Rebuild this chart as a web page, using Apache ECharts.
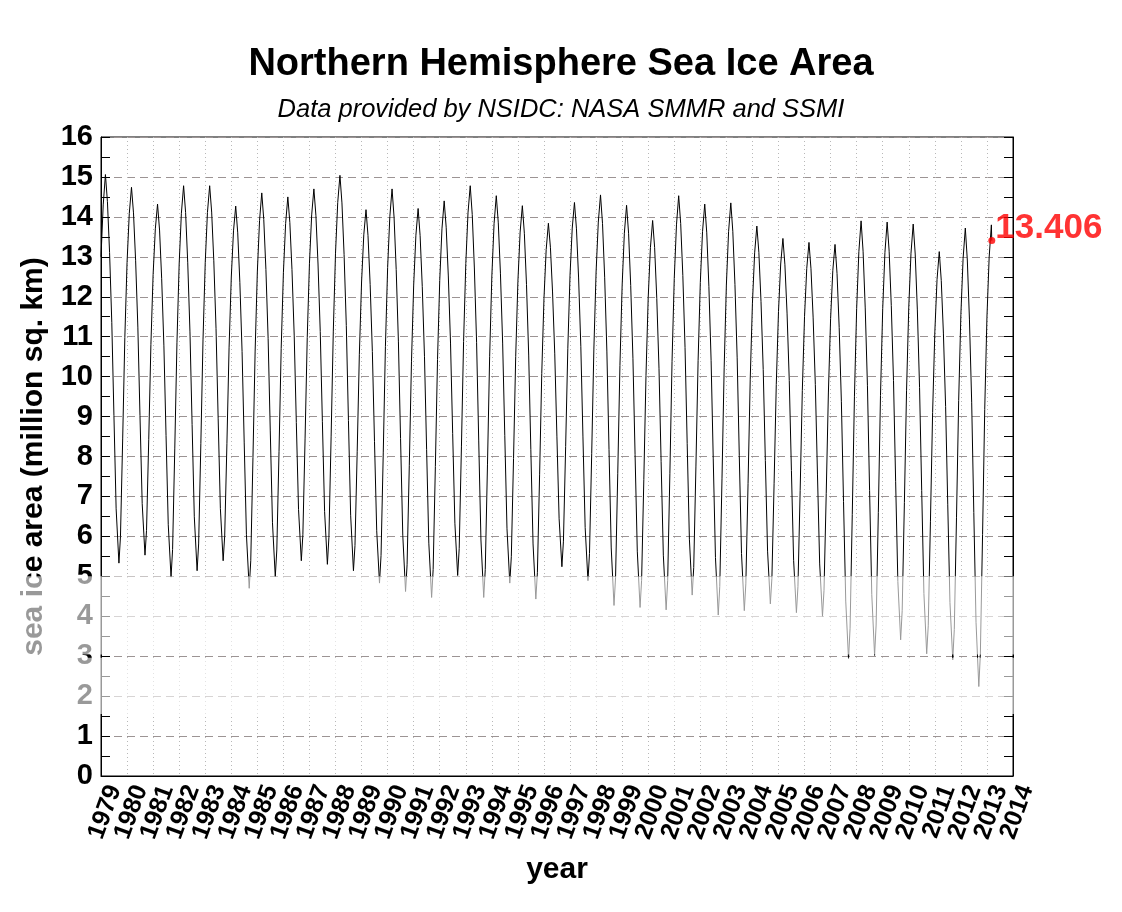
<!DOCTYPE html>
<html>
<head>
<meta charset="utf-8">
<title>Northern Hemisphere Sea Ice Area</title>
<script src="https://cdn.jsdelivr.net/npm/echarts@6/dist/echarts.min.js"></script>
<style>
  html, body { margin: 0; padding: 0; background: #fff; }
  #main { width: 1122px; height: 912px; }
</style>
</head>
<body>
<div id="main"></div>
<script>
// sample dates inside each year (fraction of year): Jan 1, Feb 1, ~Mar 5 (max), Apr 1, May 1,
// Jun 1, Jul 1, Aug 1, ~Sep 10 (min), Oct 1, Nov 1, Dec 1
var sampleFrac = [0.000, 0.085, 0.170, 0.247, 0.329, 0.414, 0.496, 0.581, 0.688, 0.747, 0.832, 0.915];

var years = [1979, 1980, 1981, 1982, 1983, 1984, 1985, 1986, 1987, 1988, 1989, 1990,
             1991, 1992, 1993, 1994, 1995, 1996, 1997, 1998, 1999, 2000, 2001, 2002,
             2003, 2004, 2005, 2006, 2007, 2008, 2009, 2010, 2011, 2012];

// sea ice area, million sq. km
var area = [
  [13.00, 14.30, 15.06, 14.38, 13.11, 11.36, 9.03, 6.69, 5.33, 5.99, 8.44, 10.98],
  [12.86, 14.08, 14.74, 14.10, 12.90, 11.24, 9.03, 6.82, 5.53, 6.15, 8.43, 10.80],
  [12.56, 13.70, 14.32, 13.67, 12.45, 10.77, 8.53, 6.29, 4.98, 5.67, 8.21, 10.86],
  [12.82, 14.09, 14.78, 14.11, 12.85, 11.12, 8.80, 6.49, 5.14, 5.81, 8.32, 10.92],
  [12.85, 14.11, 14.78, 14.12, 12.90, 11.21, 8.96, 6.70, 5.39, 6.01, 8.32, 10.72],
  [12.49, 13.65, 14.27, 13.60, 12.36, 10.63, 8.34, 6.04, 4.70, 5.39, 7.97, 10.64],
  [12.62, 13.91, 14.60, 13.93, 12.68, 10.95, 8.64, 6.34, 4.99, 5.66, 8.13, 10.70],
  [12.60, 13.83, 14.50, 13.86, 12.68, 11.04, 8.85, 6.67, 5.39, 6.04, 8.46, 10.98],
  [12.84, 14.05, 14.70, 14.04, 12.82, 11.13, 8.87, 6.62, 5.30, 5.98, 8.51, 11.14],
  [13.09, 14.36, 15.04, 14.35, 13.06, 11.28, 8.90, 6.53, 5.14, 5.77, 8.12, 10.56],
  [12.37, 13.55, 14.18, 13.53, 12.31, 10.63, 8.38, 6.14, 4.83, 5.52, 8.09, 10.75],
  [12.73, 14.01, 14.70, 13.99, 12.68, 10.87, 8.45, 6.03, 4.62, 5.29, 7.78, 10.37],
  [12.29, 13.54, 14.21, 13.53, 12.26, 10.51, 8.17, 5.83, 4.47, 5.17, 7.75, 10.43],
  [12.41, 13.70, 14.40, 13.74, 12.52, 10.84, 8.58, 6.33, 5.02, 5.70, 8.24, 10.88],
  [12.83, 14.10, 14.78, 14.06, 12.72, 10.86, 8.39, 5.91, 4.47, 5.17, 7.79, 10.51],
  [12.52, 13.83, 14.53, 13.85, 12.59, 10.84, 8.52, 6.19, 4.83, 5.49, 7.95, 10.50],
  [12.39, 13.62, 14.28, 13.59, 12.31, 10.54, 8.17, 5.81, 4.43, 5.09, 7.54, 10.08],
  [11.96, 13.18, 13.84, 13.24, 12.12, 10.57, 8.51, 6.44, 5.24, 5.88, 8.25, 10.71],
  [12.54, 13.72, 14.36, 13.70, 12.47, 10.76, 8.49, 6.22, 4.89, 5.57, 8.08, 10.69],
  [12.62, 13.87, 14.55, 13.83, 12.49, 10.64, 8.18, 5.71, 4.27, 4.97, 7.58, 10.28],
  [12.29, 13.59, 14.29, 13.59, 12.28, 10.46, 8.05, 5.63, 4.22, 4.90, 7.42, 10.03],
  [11.97, 13.23, 13.91, 13.23, 11.96, 10.21, 7.87, 5.53, 4.16, 4.89, 7.58, 10.38],
  [12.46, 13.80, 14.53, 13.83, 12.53, 10.73, 8.33, 5.93, 4.53, 5.22, 7.76, 10.40],
  [12.36, 13.63, 14.32, 13.60, 12.26, 10.41, 7.94, 5.47, 4.03, 4.75, 7.44, 10.22],
  [12.29, 13.63, 14.35, 13.64, 12.31, 10.47, 8.02, 5.57, 4.14, 4.81, 7.32, 9.92],
  [11.84, 13.10, 13.77, 13.11, 11.88, 10.18, 7.90, 5.63, 4.31, 4.95, 7.33, 9.80],
  [11.63, 12.82, 13.46, 12.80, 11.59, 9.90, 7.65, 5.40, 4.09, 4.74, 7.15, 9.65],
  [11.51, 12.71, 13.36, 12.70, 11.49, 9.80, 7.56, 5.31, 4.00, 4.65, 7.07, 9.59],
  [11.45, 12.66, 13.31, 12.58, 11.23, 9.37, 6.87, 4.38, 2.93, 3.70, 6.55, 9.51],
  [11.71, 13.13, 13.90, 13.14, 11.72, 9.77, 7.15, 4.54, 3.02, 3.78, 6.60, 9.53],
  [11.70, 13.11, 13.87, 13.14, 11.78, 9.90, 7.38, 4.87, 3.41, 4.14, 6.85, 9.66],
  [11.74, 13.09, 13.82, 13.07, 11.67, 9.73, 7.15, 4.57, 3.06, 3.76, 6.38, 9.10],
  [11.12, 12.43, 13.13, 12.41, 11.09, 9.25, 6.79, 4.34, 2.91, 3.67, 6.48, 9.40],
  [11.56, 12.96, 13.72, 12.92, 11.42, 9.36, 6.60, 3.85, 2.24, 3.05, 6.05, 9.18]
];

// 2013 so far (ends with the latest value)
var lastYear = 2013;
var lastFrac = [0.000, 0.085, 0.170, 0.186];
var lastArea = [11.49, 12.99, 13.80, 13.406];

var xTicks = [];
for (var t = 1979; t <= 2014; t++) xTicks.push(t);

var fontFam = '"Liberation Sans", Arial, Helvetica, sans-serif';

var lineData = [];
years.forEach(function(y, i) {
    area[i].forEach(function(v, j) {
        lineData.push([y + sampleFrac[j], v]);
    });
});
lastArea.forEach(function(v, j) {
    lineData.push([lastYear + lastFrac[j], v]);
});
var lastPoint = lineData[lineData.length - 1];

var myChart = echarts.init(document.getElementById('main'));

// rotated year labels (shared by both x axes)
function yearLabel(extra) {
    var o = {
        rotate: 70,
        margin: 5,
        verticalAlign: 'top',
        lineHeight: 4,
        padding: [12.5, 0, 0, 0],
        hideOverlap: false,
        fontFamily: fontFam, fontSize: 25, fontWeight: 'bold', color: '#000'
    };
    for (var k in extra) o[k] = extra[k];
    return o;
}

var option = {
    backgroundColor: '#fff',
    animation: false,
    title: [{
        text: 'Northern Hemisphere Sea Ice Area',
        left: 'center',
        top: 41,
        textStyle: { fontFamily: fontFam, fontSize: 38, fontWeight: 'bold', color: '#000' }
    }, {
        text: 'Data provided by NSIDC: NASA SMMR and SSMI',
        left: 'center',
        top: 92,
        textStyle: { fontFamily: fontFam, fontSize: 25.5, fontStyle: 'italic', fontWeight: 'normal', color: '#000' }
    }],
    grid: {
        left: 101, right: 109, top: 137, bottom: 136,
        show: true, borderColor: '#000', borderWidth: 1, backgroundColor: 'transparent'
    },
    xAxis: [{
        type: 'value',
        min: xTicks[0],
        max: xTicks[xTicks.length - 1],
        interval: 1,
        name: 'year',
        nameLocation: 'middle',
        nameGap: 79,
        nameTextStyle: { fontFamily: fontFam, fontSize: 30, fontWeight: 'bold', color: '#000' },
        axisLine: { lineStyle: { color: '#000', width: 1 } },
        axisTick: { show: false },
        axisLabel: yearLabel({ formatter: function(v) { return String(Math.round(v)); } }),
        splitLine: { show: true, lineStyle: { color: '#b8b8b8', type: [1, 3], width: 1 } }
    }, {
        // second copy of the axis: only the first and last year labels
        type: 'value',
        position: 'bottom',
        min: xTicks[0],
        max: xTicks[xTicks.length - 1],
        interval: 1,
        axisLine: { show: false },
        axisTick: { show: false },
        splitLine: { show: false },
        axisLabel: yearLabel({
            showMinLabel: true,
            showMaxLabel: true,
            formatter: function(v) {
                var y = Math.round(v);
                return (y === xTicks[0] || y === xTicks[xTicks.length - 1]) ? String(y) : '';
            }
        })
    }],
    yAxis: [{
        type: 'value',
        min: 0, max: 16, interval: 1,
        name: 'sea ice area (million sq. km)',
        nameLocation: 'middle',
        nameGap: 52,
        nameTextStyle: { fontFamily: fontFam, fontSize: 30, fontWeight: 'bold', color: '#000' },
        axisLine: { show: true, lineStyle: { color: '#000', width: 1 } },
        axisTick: { show: true, inside: true, length: 9, lineStyle: { color: '#000' } },
        minorTick: { show: true, splitNumber: 2, length: 9, lineStyle: { color: '#000' } },
        axisLabel: { margin: 8, fontFamily: fontFam, fontSize: 29, fontWeight: 'bold', color: '#000' },
        splitLine: { show: true, lineStyle: { color: '#9c9494', type: [8, 5], width: 1 } }
    }, {
        type: 'value',
        position: 'right',
        min: 0, max: 16, interval: 1,
        axisLine: { show: true, lineStyle: { color: '#000', width: 1 } },
        axisTick: { show: true, inside: true, length: 9, lineStyle: { color: '#000' } },
        minorTick: { show: true, splitNumber: 2, length: 9, lineStyle: { color: '#000' } },
        axisLabel: { show: false },
        splitLine: { show: false }
    }],
    series: [{
        type: 'line',
        data: lineData,
        showSymbol: false,
        symbol: 'none',
        lineStyle: { color: '#000', width: 1 },
        z: 3
    }, {
        type: 'scatter',
        data: [lastPoint],
        symbol: 'circle',
        symbolSize: 7,
        itemStyle: { color: '#ff0000' },
        label: {
            show: true,
            position: 'right',
            distance: 0,
            offset: [0, -12],
            formatter: function(p) { return p.value[1].toFixed(3); },
            fontFamily: fontFam, fontSize: 35, fontWeight: 'bold', color: '#ff0000'
        },
        z: 5
    }]
};

myChart.setOption(option);

// pale band over the lower part of the picture (values 5 to about 1.5)
var bandTop = 5.0, bandGapTop = 3.04, bandGapBottom = 2.96, bandBottom = 1.55;
function py(v) { return myChart.convertToPixel({ gridIndex: 0 }, [1979, v])[1]; }
var w = myChart.getWidth();
myChart.setOption({
    graphic: [{
        type: 'rect', z: 100, silent: true,
        shape: { x: 0, y: py(bandTop), width: w, height: py(bandGapTop) - py(bandTop) },
        style: { fill: 'rgba(255,255,255,0.6)' }
    }, {
        type: 'rect', z: 100, silent: true,
        shape: { x: 0, y: py(bandGapBottom), width: w, height: py(bandBottom) - py(bandGapBottom) },
        style: { fill: 'rgba(255,255,255,0.6)' }
    }]
});
</script>
</body>
</html>
